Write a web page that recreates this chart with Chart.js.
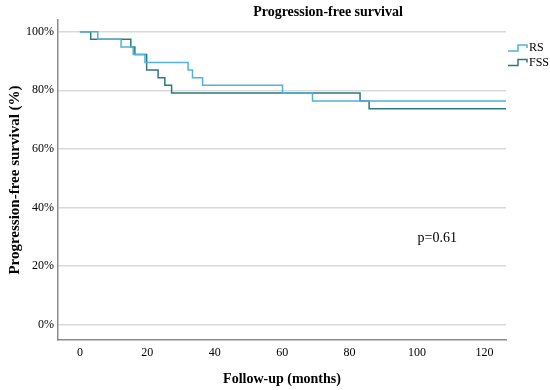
<!DOCTYPE html>
<html>
<head>
<meta charset="utf-8">
<script src="https://cdn.jsdelivr.net/npm/chart.js@4"></script>
<style>
  html, body { margin: 0; padding: 0; background: #fff; }
  #wrap { width: 550px; height: 390px; }
</style>
</head>
<body>
<div id="wrap"><canvas id="pfsChart"></canvas></div>
<script>
// Kaplan-Meier steps (months, % surviving)
const rsMonths = [0, 5.3, 12.2, 15.8, 19.3, 32.1, 33.4, 36.4, 60.1, 69.0, 126.4];
const rsSurvival = [100, 97.4, 94.8, 92.2, 89.5, 86.9, 84.3, 81.7, 79.1, 76.4, 76.4];
const fssMonths = [0, 3.2, 15.1, 16.3, 19.8, 23.2, 25.2, 27.2, 83.1, 85.8, 126.4];
const fssSurvival = [100, 97.4, 94.8, 92.2, 86.9, 84.3, 81.7, 79.1, 76.4, 73.7, 73.7];

const seriesLabels = ['RS', 'FSS'];
const seriesColors = ['#52b2d9', '#2b7a7c'];
const xTicks = [0, 20, 40, 60, 80, 100, 120];
const yTicks = [0, 20, 40, 60, 80, 100];

const chartTitle = 'Progression-free survival';
const xTitle = 'Follow-up (months)';
const yTitle = 'Progression-free survival (%)';
const pValueText = 'p=0.61';
const pValuePos = [106, 29.6];

const serif = '"Liberation Serif", "Times New Roman", serif';

function toPoints(xs, ys) {
  return xs.map((x, i) => ({ x: x, y: ys[i] }));
}

// title, legend with step icons and the p-value note
const extras = {
  id: 'extras',
  afterDraw(chart) {
    const ctx = chart.ctx;
    const x = chart.scales.x;
    const y = chart.scales.y;
    ctx.save();
    ctx.fillStyle = '#000';
    ctx.textBaseline = 'middle';

    ctx.font = 'bold 14px ' + serif;
    ctx.textAlign = 'center';
    ctx.fillText(chartTitle, 328, 12);

    ctx.font = '14px ' + serif;
    ctx.fillText(pValueText, x.getPixelForValue(pValuePos[0]), y.getPixelForValue(pValuePos[1]));

    ctx.font = '12px ' + serif;
    ctx.textAlign = 'left';
    chart.data.datasets.forEach((ds, i) => {
      const ly = 48 + i * 14.5;
      ctx.strokeStyle = ds.borderColor;
      ctx.lineWidth = 1.5;
      ctx.beginPath();
      ctx.moveTo(508, ly + 3);
      ctx.lineTo(518, ly + 3);
      ctx.lineTo(518, ly - 3);
      ctx.lineTo(527, ly - 3);
      ctx.lineTo(527, ly);
      ctx.stroke();
      ctx.fillStyle = '#000';
      ctx.fillText(ds.label, 529, ly);
    });
    ctx.restore();
  }
};

const ctxEl = document.getElementById('pfsChart');
new Chart(ctxEl, {
  type: 'line',
  data: {
    datasets: [{
      label: seriesLabels[0],
      data: toPoints(rsMonths, rsSurvival),
      borderColor: seriesColors[0],
      borderWidth: 1.5,
      stepped: 'before',
      pointRadius: 0,
      fill: false
    }, {
      label: seriesLabels[1],
      data: toPoints(fssMonths, fssSurvival),
      borderColor: seriesColors[1],
      borderWidth: 1.5,
      stepped: 'before',
      pointRadius: 0,
      fill: false
    }]
  },
  options: {
    responsive: true,
    maintainAspectRatio: false,
    animation: false,
    layout: {
      padding: { left: 2, right: 44, top: 20, bottom: 0 }
    },
    scales: {
      x: {
        type: 'linear',
        min: -6.5,
        max: 126.4,
        afterBuildTicks: function(scale) {
          scale.ticks = xTicks.map(v => ({ value: v }));
        },
        afterFit: function(scale) {
          scale.height = 50;
        },
        grid: { display: false, drawTicks: false },
        border: { color: '#8c8c8c', width: 1.5 },
        ticks: {
          color: '#000',
          padding: 6,
          maxRotation: 0,
          font: { family: serif, size: 12 }
        },
        title: {
          display: true,
          text: xTitle,
          color: '#000',
          padding: { top: 4, bottom: 2 },
          font: { family: serif, size: 14, weight: 'bold' }
        }
      },
      y: {
        min: -5.2,
        max: 104,
        afterBuildTicks: function(scale) {
          scale.ticks = yTicks.map(v => ({ value: v }));
        },
        afterFit: function(scale) {
          scale.width = 56;
        },
        grid: { color: '#d9d9d9', lineWidth: 1.5, drawTicks: false },
        border: { color: '#8c8c8c', width: 1.5 },
        ticks: {
          color: '#000',
          padding: 4,
          font: { family: serif, size: 12 },
          callback: function(value) {
            return value + '%';
          }
        },
        title: {
          display: true,
          text: yTitle,
          color: '#000',
          padding: { top: 4, bottom: 4 },
          font: { family: serif, size: 15, weight: 'bold' }
        }
      }
    },
    plugins: {
      legend: { display: false },
      tooltip: { enabled: false }
    }
  },
  plugins: [extras]
});
</script>
</body>
</html>
